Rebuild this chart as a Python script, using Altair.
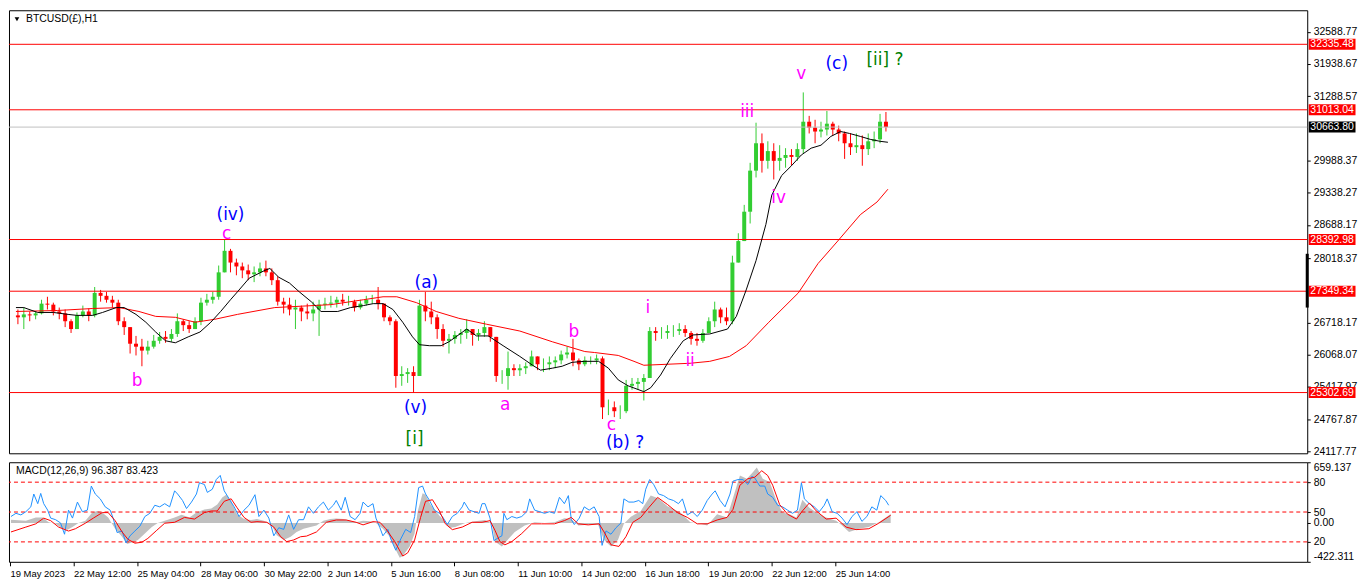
import altair as alt
import pandas as pd

# ---------------- data ----------------
HOURS_PER_CANDLE = 6  # each drawn candle groups 6 H1 bars

first_open = 26861
highs = [26980, 27019, 26940, 26940, 27177, 27237, 27118, 27019, 26980, 26782,
         26920, 27059, 27000, 27434, 27375, 27335, 27256, 27177, 26822, 26624,
         26446, 26387, 26348, 26466, 26525, 26545, 26585, 26901, 26782, 26743,
         26822, 27217, 27296, 27335, 27868, 28402, 28204, 28007, 27928, 27888,
         27849, 27928, 27967, 27809, 27651, 27217, 27217, 27177, 27059, 27098,
         27138, 27177, 27217, 27256, 27237, 27296, 27256, 27177, 27177, 27256,
         27276, 27434, 27098, 26861, 26782, 25834, 25795, 25834, 27177, 27335,
         27138, 26881, 26683, 26486, 26545, 26585, 26782, 26585, 26585, 26743,
         26624, 26427, 25755, 26131, 25874, 25874, 25913, 26150, 26032, 25992,
         26032, 26032, 26150, 26229, 26387, 25992, 26032, 26032, 26071, 26032,
         25162, 25123, 25044, 25558, 25597, 25597, 25676, 26624, 26624, 26624,
         26664, 26664, 26703, 26664, 26545, 26506, 26585, 26822, 27138, 27019,
         27019, 28066, 28520, 29093, 29942, 30752, 30535, 30377, 30337, 30298,
         30238, 30219, 30337, 31364, 30890, 30811, 30772, 30989, 30772, 30693,
         30574, 30535, 30535, 30495, 30535, 30574, 30930, 30969]
lows = [26683, 26585, 26743, 26782, 26881, 26980, 26861, 26782, 26624, 26506,
        26585, 26822, 26743, 26822, 27138, 27118, 27019, 26664, 26466, 26091,
        26052, 25834, 26071, 26190, 26289, 26308, 26328, 26427, 26545, 26506,
        26585, 26664, 27059, 27098, 27177, 27730, 27730, 27671, 27612, 27572,
        27533, 27651, 27651, 27473, 27059, 26901, 26861, 26585, 26743, 26782,
        26743, 26446, 26980, 27019, 27019, 27059, 27059, 26940, 26980, 27059,
        27098, 26980, 26743, 26664, 25400, 25439, 25498, 25301, 25637, 26743,
        26683, 26387, 26229, 26091, 26289, 26289, 26387, 26249, 26348, 26427,
        26328, 25518, 25478, 25360, 25637, 25637, 25676, 25834, 25755, 25716,
        25755, 25795, 25874, 25992, 25834, 25755, 25834, 25874, 25874, 24768,
        24847, 24807, 24768, 24886, 25360, 25360, 25143, 25597, 26348, 26387,
        26387, 26427, 26466, 26427, 26269, 26249, 26308, 26506, 26624, 26703,
        26664, 26683, 27928, 28362, 28717, 29646, 29745, 29824, 29606, 29784,
        29843, 29883, 29982, 30140, 30535, 30337, 30456, 30495, 30495, 30377,
        30021, 30100, 30140, 29883, 30100, 30238, 30337, 30574]
closes = [26822, 26881, 26861, 26901, 27098, 27078, 26940, 26901, 26743, 26585,
          26861, 26940, 26861, 27315, 27256, 27177, 27118, 26743, 26624, 26289,
          26229, 26150, 26229, 26348, 26427, 26387, 26486, 26743, 26664, 26585,
          26743, 27118, 27177, 27237, 27730, 28165, 27928, 27849, 27770, 27691,
          27730, 27809, 27730, 27572, 27138, 27078, 26980, 27019, 26940, 26901,
          26980, 27078, 27098, 27118, 27177, 27138, 27138, 27019, 27098, 27177,
          27177, 27098, 26822, 26743, 25637, 25676, 25716, 25637, 27059, 26940,
          26822, 26585, 26348, 26387, 26466, 26506, 26585, 26466, 26506, 26624,
          26427, 25637, 25637, 25795, 25755, 25795, 25834, 26032, 25874, 25874,
          25913, 25953, 26071, 26111, 25953, 25874, 25953, 25953, 25992, 25005,
          25005, 24926, 24926, 25439, 25478, 25518, 25597, 26545, 26506, 26506,
          26545, 26545, 26585, 26506, 26387, 26348, 26506, 26743, 26980, 26822,
          26743, 27928, 28362, 28955, 29784, 30337, 29982, 30179, 29982, 30041,
          30100, 30061, 30219, 30772, 30653, 30574, 30614, 30732, 30614, 30535,
          30337, 30258, 30298, 30219, 30377, 30416, 30772, 30664]

# moving averages (bar index, price)
ma_fast_t = [1, 9, 23, 39, 54, 63, 79, 89, 103, 111, 123, 133, 143, 153, 163, 176, 188, 199, 209, 219,
             226, 238, 254, 259, 268, 279, 289, 301, 311, 328, 341, 354, 364, 374, 384, 394, 404, 411, 421, 433,
             441, 448, 459, 469, 481, 496, 513, 526, 534, 546, 556, 566, 579, 593, 603, 613, 623, 639, 646, 656,
             666, 679, 689, 706, 724, 733, 743, 753, 763, 769, 779, 789, 799, 809, 819, 829, 839, 848, 859, 869,
             879, 887]
ma_fast = [27019, 27019, 26920, 26920, 26881, 26861, 26861, 26920, 27019, 27019, 26881, 26723, 26525, 26348,
           26308, 26427, 26525, 26723, 26940, 27177, 27335, 27612, 27770, 27809, 27632, 27513, 27335, 27138,
           26940, 26940, 27019, 27059, 27098, 27098, 26980, 26723, 26427, 26269, 26249, 26249, 26328, 26427,
           26585, 26446, 26446, 26249, 26032, 25854, 25755, 25795, 25834, 25913, 25933, 25933, 25795, 25558,
           25439, 25321, 25400, 25657, 25992, 26348, 26466, 26486, 26585, 26841, 27375, 27967, 28698, 29290,
           29685, 29883, 30100, 30238, 30298, 30475, 30574, 30535, 30475, 30416, 30377, 30357]
ma_slow_t = [1, 43, 79, 106, 126, 143, 163, 183, 203, 226, 264, 321, 354, 374, 388, 408, 428, 451, 479, 513,
             546, 579, 589, 613, 629, 639, 686, 706, 726, 743, 766, 796, 816, 836, 859, 876, 887]
ma_slow = [26940, 26960, 27000, 27019, 26940, 26841, 26822, 26723, 26782, 26881, 27019, 27078, 27177, 27237,
           27237, 27118, 26940, 26802, 26683, 26545, 26328, 26131, 26111, 26052, 25933, 25854, 25894, 25933,
           26032, 26249, 26723, 27315, 27908, 28362, 28895, 29152, 29409]

# horizontal levels
level_prices = [32335.48, 31013.04, 28392.98, 27349.34, 25302.69]
current_price = [30663.80]
scroll_marker = [28105, 27019]

price_ticks = [32588.77, 31938.67, 31288.57, 29988.37, 29338.27, 28688.17, 28018.37,
               26718.17, 26068.07, 25417.97, 24767.87, 24117.77]

# wave labels
wave_text = ["(iv)", "c", "b", "(v)", "[i]", "(a)", "a", "b", "c", "(b) ?", "i", "ii", "iii", "iv", "v", "(c)", "[ii] ?"]
wave_t = [219, 215, 124, 407, 406, 418, 498, 568, 606, 620, 643, 686, 744, 776, 799, 835, 884]
wave_price = [28880, 28500, 25538, 24985, 24373, 27513, 25044, 26525, 24640, 24280, 27000, 25933,
              30969, 29231, 31739, 31937, 32016]
wave_color = ["#0000FF", "#FF00FF", "#FF00FF", "#0000FF", "#008000", "#0000FF", "#FF00FF", "#FF00FF",
              "#FF00FF", "#0000FF", "#FF00FF", "#FF00FF", "#FF00FF", "#FF00FF", "#FF00FF", "#0000FF", "#008000"]

# x axis labels every 64 bars
x_labels = ["19 May 2023", "22 May 12:00", "25 May 04:00", "28 May 06:00", "30 May 22:00", "2 Jun 14:00",
            "5 Jun 16:00", "8 Jun 08:00", "11 Jun 10:00", "14 Jun 02:00", "16 Jun 18:00", "19 Jun 20:00",
            "22 Jun 12:00", "25 Jun 14:00"]
LABEL_STEP = 64

# MACD panel
hist_t = [1, 16, 26, 33, 39, 46, 53, 58, 63, 69, 76, 83, 88, 93, 99, 106, 113, 118, 123, 129,
          136, 143, 149, 156, 166, 173, 181, 188, 196, 203, 209, 214, 218, 223, 229, 236, 243, 249, 256, 263,
          269, 276, 283, 289, 296, 303, 309, 316, 323, 329, 336, 343, 349, 356, 363, 369, 376, 383, 388, 393,
          396, 403, 408, 411, 416, 419, 424, 429, 436, 443, 449, 459, 469, 479, 486, 489, 496, 503, 509, 519,
          529, 539, 549, 559, 566, 573, 583, 593, 599, 606, 613, 619, 626, 636, 646, 653, 663, 676, 686, 696,
          703, 713, 723, 729, 736, 743, 749, 753, 759, 766, 773, 779, 786, 793, 799, 806, 813, 823, 833, 839,
          846, 856, 866, 876, 883, 888]
hist = [35, 25, 60, 60, 7, -10, -63, -73, -45, 0, 25, 112, 130, 112, 60, -63, -150, -228, -213, -185,
        -115, -45, 0, 25, 60, 88, 60, 112, 147, 158, 200, 277, 305, 235, 95, 42, 32, 42, 25, -10,
        -133, -185, -150, -98, -63, -45, -28, 25, 42, 49, 42, 25, 7, 25, 18, 0, -63, -150, -273, -378,
        -360, -255, -115, 120, 322, 305, 200, 130, 42, -55, -45, 0, 18, 32, -10, -203, -255, -168, -98, -28,
        7, 0, 7, 52, 42, -28, -21, -21, -185, -255, -185, -10, 67, 130, 297, 270, 182, 112, 7, -10,
        -28, 95, 60, 270, 515, 480, 550, 602, 480, 445, 235, 112, 95, 60, 252, 165, 112, 60, 25, -28,
        -98, -63, -45, 7, 60, 96]
sig_t = [1, 16, 26, 34, 41, 49, 59, 66, 76, 84, 93, 99, 106, 113, 119, 126, 133, 139, 148, 156,
         166, 176, 186, 196, 203, 209, 216, 223, 229, 236, 243, 249, 259, 266, 273, 279, 286, 293, 299, 309,
         319, 329, 339, 349, 356, 366, 373, 379, 388, 396, 401, 408, 414, 419, 426, 433, 439, 446, 456, 466,
         476, 484, 489, 494, 499, 506, 516, 526, 536, 549, 559, 566, 573, 583, 594, 599, 606, 614, 621, 628,
         636, 644, 653, 663, 673, 683, 693, 703, 713, 723, 729, 736, 744, 751, 758, 764, 769, 776, 784, 793,
         799, 806, 813, 823, 833, 843, 853, 866, 876, 888]
sig = [-98, -45, -10, 52, 25, -45, -88, -63, -3, 52, 112, 112, 25, -98, -179, -220, -210, -168, -80, -3,
       7, 60, 42, 112, 130, 130, 235, 262, 165, 60, 7, 14, 7, -45, -150, -203, -185, -150, -143, -98,
       7, 32, 32, 7, -21, 14, 7, -63, -203, -360, -325, -185, 60, 235, 252, 130, -10, -73, -45, 7,
       7, 25, -80, -203, -238, -203, -115, -10, -10, -10, 25, 60, -10, -21, -10, -98, -238, -255, -150, 7,
       60, 165, 277, 200, 112, 60, -10, -10, 32, 60, 147, 410, 480, 497, 567, 515, 410, 200, 95, 42,
       130, 217, 130, 42, 52, -45, -73, -63, -3, 83]
osc_t = [1, 6, 11, 16, 21, 24, 28, 31, 34, 38, 41, 46, 51, 55, 59, 63, 68, 73, 78, 82,
         86, 91, 96, 101, 104, 108, 113, 117, 121, 126, 131, 136, 141, 146, 151, 156, 161, 166, 169, 174,
         178, 183, 188, 191, 196, 199, 204, 208, 212, 216, 221, 226, 231, 236, 241, 247, 251, 256, 261, 266,
         271, 276, 281, 286, 291, 296, 301, 306, 311, 316, 321, 326, 329, 334, 338, 343, 348, 353, 356, 361,
         366, 369, 373, 376, 381, 384, 389, 394, 399, 404, 408, 412, 416, 419, 423, 428, 433, 436, 441, 446,
         451, 456, 458, 463, 468, 473, 476, 479, 484, 488, 493, 496, 498, 501, 506, 511, 516, 521, 524, 529,
         534, 539, 544, 549, 554, 559, 563, 566, 569, 574, 579, 584, 589, 594, 597, 601, 606, 611, 616, 619,
         624, 629, 634, 638, 641, 645, 649, 654, 659, 664, 669, 674, 678, 683, 688, 693, 698, 703, 708, 711,
         716, 721, 726, 729, 734, 739, 744, 748, 751, 756, 761, 764, 769, 774, 779, 784, 789, 794, 798, 801,
         806, 811, 816, 821, 824, 829, 834, 839, 844, 849, 854, 859, 864, 869, 874, 878, 883, 886]
osc = [45.5, 48.7, 47.1, 50.3, 55.2, 68.1, 58.4, 68.7, 58.4, 51.9, 43.9, 42.3, 39.0, 27.7, 51.9, 43.9, 60.0, 50.3, 51.9, 76.1,
       68.1, 63.2, 55.2, 51.9, 43.9, 29.4, 31.0, 19.0, 26.1, 31.0, 35.8, 45.5, 48.7, 56.8, 55.2, 58.4, 55.2, 71.3, 68.1, 61.6,
       53.5, 60.0, 68.1, 79.4, 77.7, 69.7, 72.9, 82.6, 86.8, 71.3, 63.2, 55.2, 45.5, 51.9, 56.8, 67.4, 45.5, 51.9, 43.9, 26.1,
       34.2, 32.6, 47.1, 32.6, 42.3, 42.3, 55.2, 48.7, 55.2, 60.0, 51.9, 56.8, 61.6, 51.9, 64.8, 45.5, 42.3, 48.7, 60.0, 55.2,
       58.4, 43.9, 34.2, 26.1, 32.6, 22.9, 11.6, 22.9, 32.6, 29.4, 45.5, 74.5, 76.1, 68.1, 61.6, 51.9, 48.7, 45.5, 37.4, 45.5,
       48.7, 55.2, 60.0, 51.9, 50.3, 48.7, 58.4, 58.4, 43.9, 21.3, 24.5, 26.1, 48.7, 42.3, 45.5, 43.9, 45.5, 50.3, 63.2, 51.9,
       50.3, 48.7, 50.3, 48.7, 64.8, 58.4, 66.5, 42.3, 37.4, 43.9, 55.2, 51.9, 55.2, 45.5, 16.5, 31.0, 27.7, 34.2, 39.0, 63.2,
       60.0, 60.0, 61.6, 58.4, 72.9, 82.6, 77.7, 68.1, 66.5, 63.2, 61.6, 58.4, 63.2, 47.1, 50.3, 45.5, 51.9, 61.6, 68.1, 71.3,
       61.6, 55.2, 68.1, 81.0, 82.6, 82.6, 77.7, 85.8, 84.2, 76.1, 76.1, 68.1, 64.8, 56.8, 55.2, 51.9, 48.7, 51.9, 79.4, 63.2,
       58.4, 55.2, 50.3, 56.8, 63.2, 50.3, 48.7, 43.9, 37.4, 45.5, 50.3, 40.6, 45.5, 55.2, 51.9, 66.5, 61.6, 56.8]
osc_levels = [80, 50, 20]
macd_range = [-422.311, 659.137]
osc_range = [0, 100]

# ---------------- styling ----------------
W = 1304
H_MAIN = 445
H_MACD = 100
GREEN = "#32CD32"
RED = "#FF0000"
FONT = "Liberation Sans"
X_DOMAIN = [-1, 1308]
Y_DOMAIN = [24076, 33023]

xs = alt.Scale(domain=X_DOMAIN, nice=False, zero=False)
ys = alt.Scale(domain=Y_DOMAIN, nice=False, zero=False)

opens = [first_open] + closes[:-1]
candles = pd.DataFrame({
    "t": [HOURS_PER_CANDLE * k + HOURS_PER_CANDLE / 2 for k in range(len(closes))],
    "open": opens, "high": highs, "low": lows, "close": closes,
})
candles["dir"] = ["up" if c >= o else "down" for o, c in zip(opens, closes)]
dir_color = alt.Color("dir:N", scale=alt.Scale(domain=["up", "down"], range=[GREEN, RED]), legend=None)

price_axis = alt.Axis(orient="right", values=price_ticks, format=".2f", tickSize=3, labelPadding=3,
                      domain=False, grid=False, title=None, labelOverlap=False, zindex=0,
                      labelFont=FONT, labelFontSize=10.5, labelColor="black", tickColor="black")
xnone = alt.X("t:Q", scale=xs, axis=None)

wick = alt.Chart(candles).mark_rule(strokeWidth=1).encode(
    x=xnone, y=alt.Y("low:Q", scale=ys, axis=price_axis), y2="high:Q", color=dir_color)
body = alt.Chart(candles).mark_bar(size=4).encode(
    x=xnone, y=alt.Y("open:Q", scale=ys, title=None), y2="close:Q", color=dir_color)

fast_df = pd.DataFrame({"t": ma_fast_t, "v": ma_fast})
slow_df = pd.DataFrame({"t": ma_slow_t, "v": ma_slow})
fast_line = alt.Chart(fast_df).mark_line(color="black", strokeWidth=1).encode(
    x=xnone, y=alt.Y("v:Q", scale=ys, title=None))
slow_line = alt.Chart(slow_df).mark_line(color=RED, strokeWidth=1).encode(
    x=xnone, y=alt.Y("v:Q", scale=ys, title=None))

lev_df = pd.DataFrame({"p": level_prices, "lab": [f"{p:.2f}" for p in level_prices]})
cur_df = pd.DataFrame({"p": current_price, "lab": [f"{p:.2f}" for p in current_price]})
lev_rules = alt.Chart(lev_df).mark_rule(color=RED, strokeWidth=1).encode(y=alt.Y("p:Q", scale=ys, title=None))
cur_rule = alt.Chart(cur_df).mark_rule(color="#C0C0C0", strokeWidth=1).encode(y=alt.Y("p:Q", scale=ys, title=None))

BOX_X = W + 25
lev_box = alt.Chart(lev_df).mark_tick(color=RED, size=47, thickness=11, orient="horizontal", opacity=1).encode(
    x=alt.value(BOX_X), y=alt.Y("p:Q", scale=ys, title=None))
lev_txt = alt.Chart(lev_df).mark_text(color="white", font=FONT, fontSize=10.5, align="center",
                                      baseline="middle").encode(
    x=alt.value(BOX_X), y=alt.Y("p:Q", scale=ys, title=None), text="lab:N")
cur_box = alt.Chart(cur_df).mark_tick(color="black", size=47, thickness=11, orient="horizontal", opacity=1).encode(
    x=alt.value(BOX_X), y=alt.Y("p:Q", scale=ys, title=None))
cur_txt = alt.Chart(cur_df).mark_text(color="white", font=FONT, fontSize=10.5, align="center",
                                      baseline="middle").encode(
    x=alt.value(BOX_X), y=alt.Y("p:Q", scale=ys, title=None), text="lab:N")
scroll = alt.Chart(pd.DataFrame({"a": [scroll_marker[0]], "b": [scroll_marker[1]]})).mark_rule(
    color="black", strokeWidth=3).encode(x=alt.value(W), y=alt.Y("a:Q", scale=ys, title=None), y2="b:Q")

wave_df = pd.DataFrame({"t": wave_t, "p": wave_price, "txt": wave_text, "col": wave_color})
waves = alt.Chart(wave_df).mark_text(font="DejaVu Sans", fontSize=17, align="center", baseline="middle").encode(
    x=xnone, y=alt.Y("p:Q", scale=ys, title=None), text="txt:N", color=alt.Color("col:N", scale=None))

title_df = pd.DataFrame({"s": ["BTCUSD(£),H1"]})
title_txt = alt.Chart(title_df).mark_text(font=FONT, fontSize=10.5, align="left", baseline="middle",
                                          color="black").encode(x=alt.value(17), y=alt.value(9), text="s:N")
title_tri = alt.Chart(title_df).mark_point(shape="triangle-down", filled=True, size=22, color="black",
                                           opacity=1).encode(x=alt.value(8), y=alt.value(9))

main = alt.layer(wick, body, lev_rules, cur_rule, slow_line, fast_line, waves,
                 lev_box, lev_txt, cur_box, cur_txt, scroll, title_tri, title_txt).properties(
    width=W, height=H_MAIN)

# ---------------- MACD panel ----------------
ms = alt.Scale(domain=macd_range, nice=False, zero=False)
os_ = alt.Scale(domain=osc_range, nice=False, zero=False)

def osc_to_macd(v):
    return macd_range[0] + (v - osc_range[0]) / (osc_range[1] - osc_range[0]) * (macd_range[1] - macd_range[0])

macd_axis_values = [macd_range[1]] + [osc_to_macd(v) for v in osc_levels[:2]] + [0] + \
                   [osc_to_macd(osc_levels[2])] + [macd_range[0]]
macd_axis_labels = ["659.137", "80", "50", "0.00", "20", "-422.311"]
expr = "''"
for v, lab in reversed(list(zip(macd_axis_values, macd_axis_labels))):
    expr = f"abs(datum.value - ({v:.4f})) < 1 ? '{lab}' : {expr}"

x_expr = "[" + ",".join(f"'{s}'" for s in x_labels) + f"][round(datum.value / {LABEL_STEP})]"
x_axis = alt.Axis(values=[i * LABEL_STEP for i in range(len(x_labels))], labelExpr=x_expr, labelAlign="left",
                  labelPadding=3, tickSize=4, domain=False, grid=False, title=None, labelOverlap=False,
                  labelFlush=False, labelFont=FONT, labelFontSize=9.5, labelColor="black", tickColor="black")
macd_axis = alt.Axis(orient="right", values=macd_axis_values, labelExpr=expr, tickSize=3, labelPadding=3,
                     domain=False, grid=False, title=None, labelOverlap=False, labelFlush=True,
                     labelFont=FONT, labelFontSize=10.5, labelColor="black", tickColor="black")

hist_df = pd.DataFrame({"t": hist_t, "v": hist})
sig_df = pd.DataFrame({"t": sig_t, "v": sig})
osc_df = pd.DataFrame({"t": osc_t, "v": osc})
lvl_df = pd.DataFrame({"v": osc_levels})

xm = alt.X("t:Q", scale=xs, axis=x_axis)

hist_area = alt.Chart(hist_df).mark_area(color="#C0C0C0", opacity=1).encode(
    x=xm, y=alt.Y("v:Q", scale=ms, axis=macd_axis), y2=alt.datum(0))
osc_rules = alt.Chart(lvl_df).mark_rule(color=RED, strokeWidth=1, strokeDash=[4, 3]).encode(
    y=alt.Y("v:Q", scale=os_, axis=None))
osc_line = alt.Chart(osc_df).mark_line(color="#1E90FF", strokeWidth=1).encode(
    x=xm, y=alt.Y("v:Q", scale=os_, axis=None))
sig_line = alt.Chart(sig_df).mark_line(color=RED, strokeWidth=1).encode(
    x=xm, y=alt.Y("v:Q", scale=ms, axis=None))
macd_title = alt.Chart(pd.DataFrame({"s": ["MACD(12,26,9) 96.387 83.423"]})).mark_text(
    font=FONT, fontSize=10.5, align="left", baseline="middle", color="black").encode(
    x=alt.value(7), y=alt.value(9), text="s:N")

macd = alt.layer(hist_area, osc_rules, osc_line, sig_line, macd_title).resolve_scale(
    y="independent").properties(width=W, height=H_MACD)

chart = alt.vconcat(main, macd, spacing=4).properties(
    padding={"left": 0, "top": 0, "right": 0, "bottom": 0}, background="white"
).configure_view(stroke="black", strokeWidth=1)

chart.save("out.html", embed_options={"renderer": "svg", "actions": False})
